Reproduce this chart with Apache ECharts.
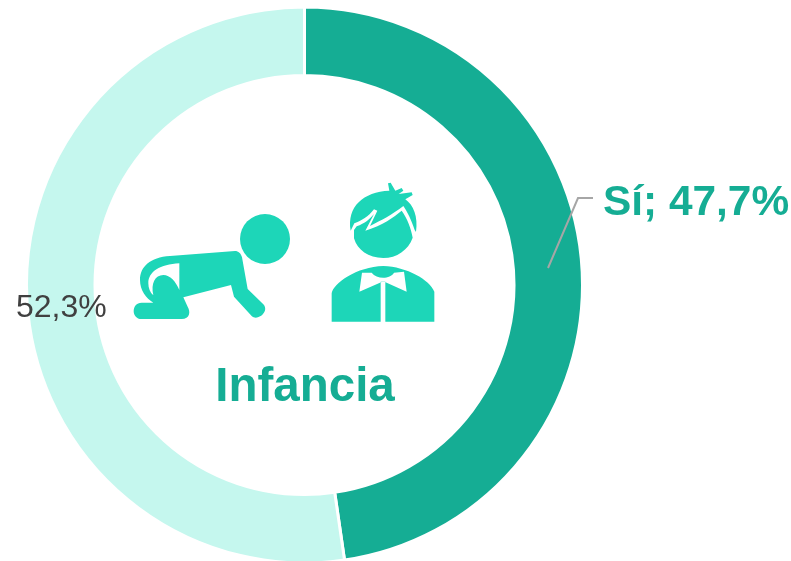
<!DOCTYPE html>
<html>
<head>
<meta charset="utf-8">
<title>Infancia</title>
<script src="https://cdn.jsdelivr.net/npm/echarts@6/dist/echarts.min.js"></script>
<style>
  html, body { margin: 0; padding: 0; background: #fff; }
  #chart { width: 791px; height: 561px; }
</style>
</head>
<body>
<div id="chart"></div>
<script>
const categories = ['Sí', 'No']
const values = [47.7, 52.3]
const sliceColors = ['#15ad94', '#c5f7ee']
const chartTitle = 'Infancia'

const fontFamily = '"Liberation Sans", Arial, sans-serif'
const iconColor = '#1dd6b8'

// icon outlines, traced at 3x from the picture (placed with scale 1/3)
const iconShapes = {
  babyBody: 'M345 243 L150 258 C90 262 60 290 60 330 C60 360 78 385 100 398 L65 398 C33 398 33 447 65 447 L185 447 C210 447 212 425 203 410 L190 382 L333 345 L342 380 L395 438 C412 455 450 425 430 403 L383 357 L366 262 C363 250 355 243 345 243 Z ' +
    'M178 280 L178 360 C168 335 150 315 130 315 C105 315 92 340 100 376 C90 368 85 355 85 340 C85 305 120 283 178 280 Z',
  boyHair: 'M692 182 C680 110 730 65 808 62 L804 40 L812 38 L826 62 L845 54 L850 62 L836 72 L875 67 L878 75 L856 88 C880 105 895 140 888 186 L884 180 C874 150 862 125 850 108 C815 135 785 150 750 168 L772 122 L762 118 C745 140 725 152 703 160 Z',
  boyFace: 'M702 180 L710 169 C735 160 750 147 762 132 L736 182 C790 165 820 142 845 122 C862 145 873 175 878 203 C865 240 830 264 790 264 C745 264 712 240 702 205 Z',
  boyTorso: 'M635 455 L635 370 C640 340 710 290 790 288 C860 290 930 330 943 365 L943 455 L796 455 L796 335 L782 335 L782 455 Z ' +
    'M726 308 L718 365 L785 336 L795 336 L860 365 L852 305 L822 308 C810 328 770 328 755 308 Z',
}

Object.keys(iconShapes).forEach((name) => {
  echarts.graphic.registerShape(name, echarts.graphic.extendPath(iconShapes[name], {}))
})

const iconPath = (name) => ({
  type: name,
  x: 120,
  y: 170,
  scaleX: 1 / 3,
  scaleY: 1 / 3,
  style: { fill: iconColor },
})

const chart = echarts.init(document.getElementById('chart'))

chart.setOption({
  animation: false,
  backgroundColor: '#fff',
  title: {
    text: chartTitle,
    left: 300,
    top: 359,
    textAlign: 'center',
    textStyle: { color: '#15ad94', fontFamily: fontFamily, fontSize: 47.5, fontWeight: 'bold' },
  },
  graphic: [
    { type: 'circle', shape: { cx: 265, cy: 239, r: 25 }, style: { fill: iconColor } },
    iconPath('babyBody'),
    iconPath('boyHair'),
    iconPath('boyFace'),
    iconPath('boyTorso'),
    // leader line of the Sí label starts inside the ring, so the pie's own labelLine can't do it
    {
      type: 'polyline',
      shape: { points: [[548, 268], [578, 198], [593, 198]] },
      style: { stroke: '#a6a6a6', lineWidth: 2, fill: null },
      z: 10,
    },
  ],
  series: [
    {
      type: 'pie',
      center: [304.5, 285],
      radius: [209.5, 278],
      startAngle: 90,
      clockwise: true,
      labelLine: { show: false },
      itemStyle: { borderColor: '#fff', borderWidth: 3 },
      data: categories.map((name, i) => ({
        name: name,
        value: values[i],
        itemStyle: { color: sliceColors[i] },
        label: i === 0
          ? { show: true, position: 'outside', overflow: 'none', formatter: (p) => `${p.name}; ${String(p.value).replace('.', ',')}%`,
              color: '#15ad94', fontFamily: fontFamily, fontSize: 42.4, fontWeight: 'bold' }
          : { show: true, position: 'outside', overflow: 'none', formatter: (p) => `${String(p.value).replace('.', ',')}%`,
              color: '#404040', fontFamily: fontFamily, fontSize: 32 },
      })),
      labelLayout: (params) => params.dataIndex === 0
        ? { x: 603, y: 203, align: 'left', verticalAlign: 'middle' }
        : { x: 16, y: 308, align: 'left', verticalAlign: 'middle' },
    },
  ],
})
</script>
</body>
</html>
